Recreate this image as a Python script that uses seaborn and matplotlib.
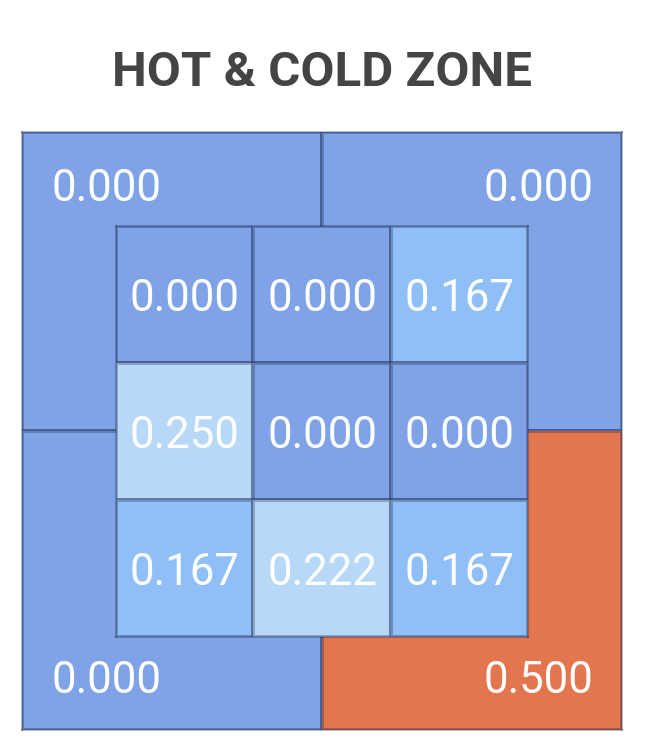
import matplotlib
matplotlib.use("Agg")
import matplotlib.pyplot as plt
import seaborn as sns
import numpy as np
import pandas as pd
from matplotlib.colors import ListedColormap, BoundaryNorm

# ---- data ----
title = "HOT & COLD ZONE"
inner_values = [
    [0.000, 0.000, 0.167],
    [0.250, 0.000, 0.000],
    [0.167, 0.222, 0.167],
]
outer_values = [
    [0.000, 0.000],
    [0.000, 0.500],
]

# ---- colour buckets ----
bucket_edges = [-0.01, 0.1, 0.2, 0.3, 0.45, 1.01]
bucket_colors = ["#7FA3E6", "#8FBFF6", "#B8D8F8", "#F2B49A", "#E3754F"]
cmap = ListedColormap(bucket_colors)
norm = BoundaryNorm(bucket_edges, cmap.N)

sns.set_theme(style="white")
plt.rcParams["font.family"] = ["Roboto", "DejaVu Sans"]

fig = plt.figure(figsize=(6.51, 7.56), dpi=100)
W, H = 651, 756

def rect(x0, y0, x1, y1):
    return [x0 / W, 1 - y1 / H, (x1 - x0) / W, (y1 - y0) / H]

edge = (0.05, 0.1, 0.25, 0.28)
lw = 1.5
fs = 31.5

# outer 2x2
ax_out = fig.add_axes(rect(22, 132, 622, 730))
sns.heatmap(pd.DataFrame(outer_values), ax=ax_out, cmap=cmap, norm=norm,
            cbar=False, annot=False, linewidths=lw, linecolor=edge,
            xticklabels=False, yticklabels=False)
ax_out.set_xlim(0, 2); ax_out.set_ylim(2, 0)
for s in ax_out.spines.values():
    s.set_visible(True); s.set_color(edge); s.set_linewidth(lw)
pos_x = [0.14, 0.86]
pos_y = [0.913, 0.089]
for r in range(2):
    for c in range(2):
        ax_out.text(pos_x[c], pos_y[r], f"{outer_values[r][c]:.3f}",
                    transform=ax_out.transAxes, ha="center",
                    va="center_baseline", color="white", fontsize=fs)

# inner 3x3
ax_in = fig.add_axes(rect(116, 226, 528, 637))
sns.heatmap(pd.DataFrame(inner_values), ax=ax_in, cmap=cmap, norm=norm,
            cbar=False, annot=True, fmt=".3f",
            annot_kws={"color": "white", "fontsize": fs},
            linewidths=lw, linecolor=edge,
            xticklabels=False, yticklabels=False)
for t in ax_in.texts:
    t.set_color("white")
    t.set_verticalalignment("center_baseline")
for s in ax_in.spines.values():
    s.set_visible(True); s.set_color(edge); s.set_linewidth(lw)

fig.text(322 / W, 1 - 68 / H, title, ha="center", va="center_baseline",
         fontsize=35.5, fontweight="bold", color="#444444")

fig.savefig("out.png", dpi=100, facecolor="white")
